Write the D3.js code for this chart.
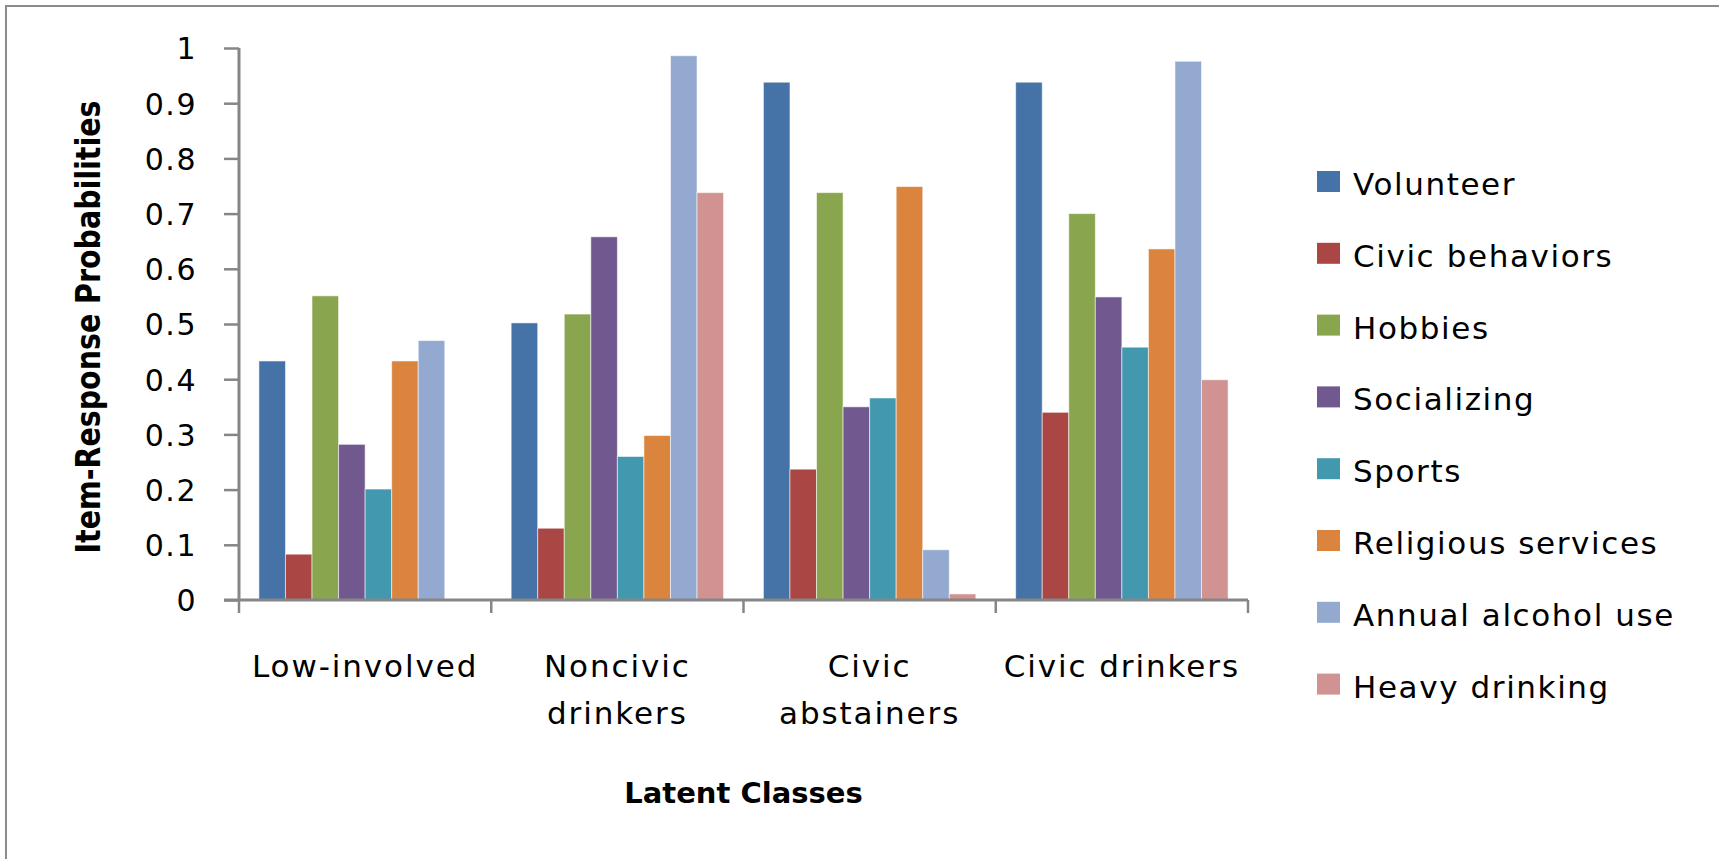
<!DOCTYPE html>
<html>
<head>
<meta charset="utf-8">
<script src="https://cdn.jsdelivr.net/npm/d3@7/dist/d3.min.js"></script>
<style>
  html, body { margin: 0; padding: 0; background: #ffffff; }
  svg { display: block; }
  text { font-family: "DejaVu Sans", Verdana, sans-serif; fill: #000; }
</style>
</head>
<body>
<svg id="chart" width="1719" height="859"></svg>
<script>
// Latent classes (x categories)
const classes = ["Low-involved", "Noncivic drinkers", "Civic abstainers", "Civic drinkers"];
const classLines = [["Low-involved"], ["Noncivic", "drinkers"], ["Civic", "abstainers"], ["Civic drinkers"]];

// Indicator items (series)
const items = ["Volunteer", "Civic behaviors", "Hobbies", "Socializing", "Sports",
               "Religious services", "Annual alcohol use", "Heavy drinking"];
const itemColors = ["#4572A7", "#AA4643", "#89A54E", "#71588F", "#4198AF",
                    "#DB843D", "#93A9CF", "#D19392"];

// Item-response probabilities, one array per item, in class order
const volunteer      = [0.433, 0.502, 0.938, 0.938];
const civicBehaviors = [0.083, 0.130, 0.237, 0.340];
const hobbies        = [0.551, 0.518, 0.738, 0.700];
const socializing    = [0.282, 0.658, 0.350, 0.549];
const sports         = [0.201, 0.260, 0.366, 0.458];
const religious      = [0.433, 0.298, 0.749, 0.636];
const annualAlcohol  = [0.470, 0.986, 0.091, 0.976];
const heavyDrinking  = [0.000, 0.738, 0.011, 0.399];
const seriesValues = [volunteer, civicBehaviors, hobbies, socializing, sports,
                      religious, annualAlcohol, heavyDrinking];

const yTicks = [0, 0.1, 0.2, 0.3, 0.4, 0.5, 0.6, 0.7, 0.8, 0.9, 1];

const svg = d3.select("#chart");
const axisColor = "#868686";

// outer chart frame
svg.append("rect")
  .attr("x", 6).attr("y", 6)
  .attr("width", 1800).attr("height", 900)
  .attr("fill", "none").attr("stroke", "#8c8c8c").attr("stroke-width", 2);

const plot = { left: 239, right: 1248, top: 48, bottom: 600 };

const x0 = d3.scaleBand().domain(classes).range([plot.left, plot.right]).padding(0);
const x1 = d3.scaleBand().domain(items).range([0, x0.bandwidth()])
  .paddingInner(0).paddingOuter(0.75);
const y = d3.scaleLinear().domain([0, 1]).range([plot.bottom, plot.top]);

// bars
const groups = svg.append("g").selectAll("g")
  .data(classes)
  .join("g")
  .attr("transform", c => `translate(${x0(c)},0)`);

groups.selectAll("rect")
  .data((c, ci) => items.map((it, si) => ({ item: it, si, v: seriesValues[si][ci] })))
  .join("rect")
  .attr("x", d => x1(d.item))
  .attr("width", x1.bandwidth())
  .attr("y", d => y(d.v))
  .attr("height", d => y(0) - y(d.v))
  .attr("fill", d => itemColors[d.si])
  .attr("stroke", d => d.v > 0 ? "rgba(255,255,255,0.55)" : "none")
  .attr("stroke-width", 1);

// y axis
const yAxis = d3.axisLeft(y).tickValues(yTicks).tickSize(15).tickPadding(27)
  .tickFormat(d => d3.format("~g")(d));
const gy = svg.append("g").attr("transform", `translate(${plot.left},0)`).call(yAxis);
gy.select(".domain").attr("stroke", axisColor).attr("stroke-width", 3)
  .attr("d", `M0,${plot.top}V${plot.bottom}`);
gy.selectAll(".tick line").attr("stroke", axisColor).attr("stroke-width", 2.5);
gy.selectAll(".tick text")
  .style("font-family", "'DejaVu Sans', sans-serif")
  .style("font-size", "30px").style("letter-spacing", "1.5px")
  .attr("fill", "#000").attr("dy", "0.36em");

// x axis: boundary ticks between classes
const boundaries = classes.map(c => x0(c)).concat([plot.right]);
const gx = svg.append("g");
gx.append("line")
  .attr("x1", plot.left - 15).attr("x2", plot.right)
  .attr("y1", y(0)).attr("y2", y(0))
  .attr("stroke", axisColor).attr("stroke-width", 3);
gx.selectAll("line.bt")
  .data(boundaries)
  .join("line").attr("class", "bt")
  .attr("x1", d => d).attr("x2", d => d)
  .attr("y1", y(0)).attr("y2", y(0) + 13)
  .attr("stroke", axisColor).attr("stroke-width", 2.5);

// category labels
const labels = svg.append("g").selectAll("text")
  .data(classes)
  .join("text")
  .attr("x", c => x0(c) + x0.bandwidth() / 2)
  .attr("y", 677)
  .attr("text-anchor", "middle")
  .style("font-size", "31px").style("letter-spacing", "1.9px");
labels.selectAll("tspan")
  .data((c, i) => classLines[i])
  .join("tspan")
  .attr("x", function () { return d3.select(this.parentNode).attr("x"); })
  .attr("dy", (d, i) => i === 0 ? 0 : 47)
  .text(d => d);

// axis titles
svg.append("text")
  .attr("x", (plot.left + plot.right) / 2).attr("y", 803)
  .attr("text-anchor", "middle")
  .style("font-size", "29px").style("font-weight", "bold")
  .text("Latent Classes");

svg.append("text")
  .attr("transform", `translate(100,${(plot.top + plot.bottom) / 2 + 3}) rotate(-90)`)
  .attr("text-anchor", "middle")
  .attr("textLength", 453).attr("lengthAdjust", "spacingAndGlyphs")
  .style("font-size", "33px").style("font-weight", "bold")
  .text("Item-Response Probabilities");

// legend
const legend = svg.append("g").attr("transform", "translate(1317,171)");
const li = legend.selectAll("g")
  .data(items)
  .join("g")
  .attr("transform", (d, i) => `translate(0,${i * 71.8})`);
li.append("rect")
  .attr("width", 23).attr("height", 21)
  .attr("fill", (d, i) => itemColors[i]);
li.append("text")
  .attr("x", 36).attr("y", 24)
  .style("font-size", "31px").style("letter-spacing", "1.6px")
  .text(d => d);
</script>
</body>
</html>
